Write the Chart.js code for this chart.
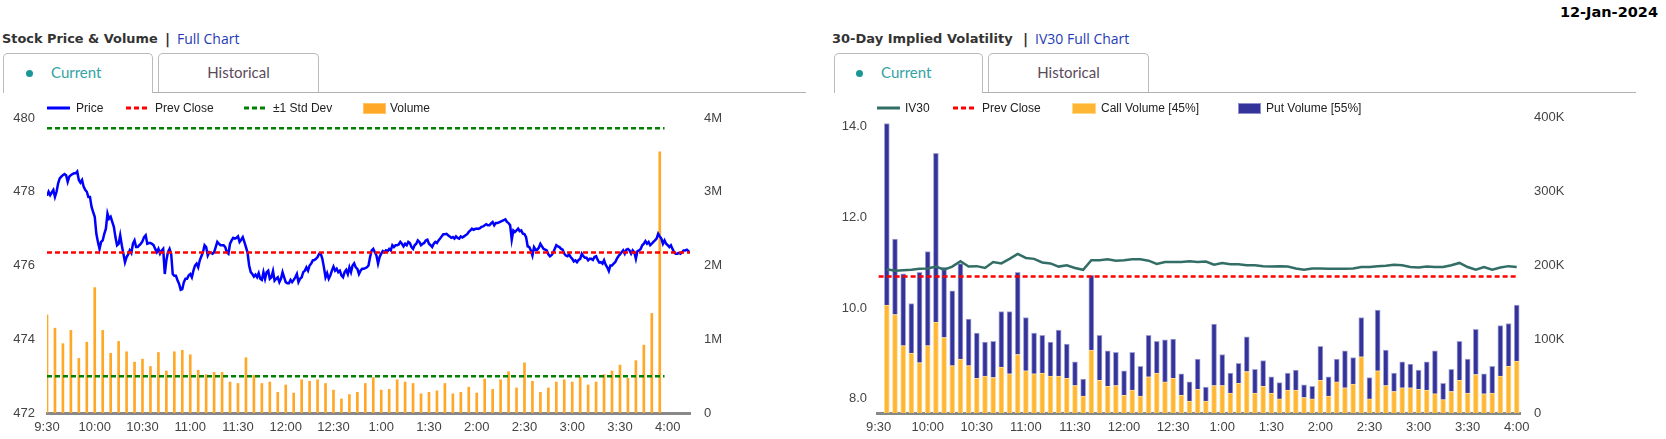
<!DOCTYPE html>
<html>
<head>
<meta charset="utf-8">
<title>Stock Price & Volume / IV30</title>
<script src="https://cdn.jsdelivr.net/npm/chart.js@4.4.0/dist/chart.umd.min.js"></script>
<style>
    html, body { margin: 0; padding: 0; background: #fff; }
    #page { position: relative; width: 1666px; height: 439px; overflow: hidden; font-family: 'Liberation Sans', Arial, sans-serif; }
    .abs { position: absolute; white-space: nowrap; }
    .date { right: 8px; top: 3px; font: bold 14.5px 'DejaVu Sans', sans-serif; line-height: 18px; color: #000; }
    .title { top: 29px; font: bold 13px 'DejaVu Sans', sans-serif; line-height: 20px; color: #333; }
    .sep { top: 29px; font: bold 14px 'DejaVu Sans', sans-serif; line-height: 20px; color: #333; }
    .link { top: 29px; font: 14px 'Open Sans', sans-serif; line-height: 20px; color: #1f3bb3; }
    .tab { top: 53px; height: 40px; box-sizing: border-box; border: 1px solid #bbb; border-bottom: none; border-radius: 5px 5px 0 0; background: #fff; font: 15px Lato, sans-serif; line-height: 37px; z-index: 2; }
    .tab.hist { color: #5a4a5a; text-align: center; height: 39px; }
    .tab.cur { color: #33a3a3; }
    .dot { position: absolute; width: 7px; height: 7px; border-radius: 50%; background: #1b9696; top: 16px; }
    .rule { top: 92px; height: 1px; background: #b0b0b0; }
    .leg { top: 101px; font: 12px 'Liberation Sans', Arial, sans-serif; line-height: 15px; color: #222; z-index: 3; }
    .icon { top: 102px; z-index: 3; }
    .box { top: 103px; height: 11px; box-sizing: border-box; z-index: 3; }
    canvas { position: absolute; top: 95px; }
</style>
</head>
<body>
<div id="page">
    <div class="abs date">12-Jan-2024</div>

    <!-- left panel header -->
    <div class="abs title" style="left:2px;font-size:12.9px">Stock Price &amp; Volume</div>
    <div class="abs sep" style="left:165px">|</div>
    <div class="abs link" style="left:177px">Full Chart</div>
    <div class="abs rule" style="left:152px;width:654px"></div>
    <div class="abs tab cur" style="left:3px;width:150px"><span class="dot" style="left:22px"></span><span style="position:absolute;left:47px">Current</span></div>
    <div class="abs tab hist" style="left:158px;width:161px">Historical</div>

    <!-- right panel header -->
    <div class="abs title" style="left:832px">30-Day Implied Volatility</div>
    <div class="abs sep" style="left:1023px">|</div>
    <div class="abs link" style="left:1035px">IV30 Full Chart</div>
    <div class="abs rule" style="left:982px;width:654px"></div>
    <div class="abs tab cur" style="left:834px;width:149px"><span class="dot" style="left:21px"></span><span style="position:absolute;left:46px">Current</span></div>
    <div class="abs tab hist" style="left:988px;width:161px">Historical</div>

    <canvas id="priceChart" width="760" height="344" style="left:0"></canvas>
    <canvas id="ivChart" width="846" height="344" style="left:820px"></canvas>

    <!-- legends -->
    <svg class="abs icon" style="left:47px" width="23" height="12"><line x1="0" y1="6" x2="23" y2="6" stroke="#0000ff" stroke-width="3"/></svg>
    <span class="abs leg" style="left:76px">Price</span>
    <svg class="abs icon" style="left:126px" width="23" height="12"><line x1="0" y1="6" x2="23" y2="6" stroke="#ff0000" stroke-width="3" stroke-dasharray="5,3"/></svg>
    <span class="abs leg" style="left:155px">Prev Close</span>
    <svg class="abs icon" style="left:244px" width="23" height="12"><line x1="0" y1="6" x2="23" y2="6" stroke="#008000" stroke-width="3" stroke-dasharray="5,3"/></svg>
    <span class="abs leg" style="left:273px">±1 Std Dev</span>
    <div class="abs box" style="left:363px;width:23px;background:#ffa726;border:1px solid #ffc466"></div>
    <span class="abs leg" style="left:390px">Volume</span>

    <svg class="abs icon" style="left:877px" width="23" height="12"><line x1="0" y1="6" x2="23" y2="6" stroke="#336e66" stroke-width="3"/></svg>
    <span class="abs leg" style="left:905px">IV30</span>
    <svg class="abs icon" style="left:953px" width="23" height="12"><line x1="0" y1="6" x2="23" y2="6" stroke="#ff0000" stroke-width="3" stroke-dasharray="5,3"/></svg>
    <span class="abs leg" style="left:982px">Prev Close</span>
    <div class="abs box" style="left:1072px;width:24px;background:#ffb733;border:1px solid #ffd88a"></div>
    <span class="abs leg" style="left:1101px">Call Volume [45%]</span>
    <div class="abs box" style="left:1238px;width:23px;background:#333399;border:1px solid #8f8fcc"></div>
    <span class="abs leg" style="left:1266px">Put Volume [55%]</span>
</div>

<script>
// x axis tick labels, every 30 minutes from the open
const timeLabels = ['9:30', '10:00', '10:30', '11:00', '11:30', '12:00', '12:30', '1:00', '1:30', '2:00', '2:30', '3:00', '3:30', '4:00'];
const volTickLabels = ['0', '1M', '2M', '3M', '4M'];
const optTickLabels = ['0', '100K', '200K', '300K', '400K'];
const ivTicks = [8, 10, 12, 14];

// stock price, one value per minute from 9:30
const price = [
    477.89, 478.00, 477.91, 477.98, 478.05, 477.86, 478.00, 478.23, 478.36, 478.41,
    478.45, 478.48, 478.45, 478.27, 478.41, 478.45, 478.48, 478.50, 478.50, 478.55,
    478.32, 478.25, 478.32, 478.14, 478.05, 478.00, 477.86, 477.86, 477.59, 477.45,
    477.32, 476.86, 476.64, 476.45, 476.64, 476.68, 476.86, 477.00, 477.41, 477.27,
    477.32, 477.18, 477.05, 476.77, 476.55, 476.59, 476.82, 476.55, 476.32, 476.09,
    476.23, 476.30, 476.41, 476.34, 476.59, 476.68, 476.50, 476.50, 476.55, 476.59,
    476.66, 476.77, 476.82, 476.59, 476.61, 476.61, 476.59, 476.55, 476.45, 476.36,
    476.45, 476.32, 476.40, 476.45, 475.77, 476.14, 476.36, 476.45, 476.32, 475.77,
    475.72, 475.72, 475.60, 475.50, 475.34, 475.36, 475.55, 475.64, 475.64, 475.73,
    475.77, 475.68, 475.86, 476.00, 476.05, 475.95, 476.14, 476.25, 476.36, 476.55,
    476.50, 476.27, 476.36, 476.34, 476.32, 476.36, 476.50, 476.64, 476.59, 476.55,
    476.55, 476.55, 476.50, 476.36, 476.32, 476.59, 476.68, 476.75, 476.73, 476.75,
    476.79, 476.64, 476.70, 476.77, 476.64, 476.50, 476.35, 476.00, 475.82, 475.77,
    475.70, 475.75, 475.68, 475.79, 475.64, 475.61, 475.82, 475.64, 475.82, 475.86,
    475.64, 475.68, 475.85, 475.59, 475.64, 475.68, 475.55, 475.64, 475.82, 475.68,
    475.55, 475.52, 475.52, 475.61, 475.55, 475.61, 475.68, 475.77, 475.55, 475.64,
    475.68, 475.82, 475.86, 475.95, 475.86, 476.00, 476.05, 476.14, 476.15, 476.18,
    476.23, 476.32, 476.32, 476.18, 475.95, 475.68, 475.79, 475.64, 475.73, 475.86,
    475.97, 475.86, 475.91, 475.82, 475.86, 475.73, 475.68, 475.82, 475.88, 475.77,
    475.95, 475.82, 476.00, 476.06, 475.95, 475.91, 475.77, 475.86, 475.91, 475.91,
    475.93, 475.95, 476.00, 476.23, 476.41, 476.45, 476.36, 476.27, 476.05, 476.23,
    476.32, 476.39, 476.36, 476.41, 476.39, 476.45, 476.41, 476.55, 476.50, 476.55,
    476.55, 476.57, 476.64, 476.59, 476.52, 476.59, 476.55, 476.64, 476.61, 476.50,
    476.45, 476.55, 476.59, 476.68, 476.64, 476.55, 476.59, 476.61, 476.68, 476.70,
    476.59, 476.55, 476.50, 476.59, 476.64, 476.61, 476.68, 476.73, 476.79, 476.85,
    476.85, 476.86, 476.82, 476.79, 476.75, 476.77, 476.73, 476.79, 476.75, 476.73,
    476.79, 476.76, 476.79, 476.82, 476.85, 476.91, 476.95, 477.00, 476.97, 476.99,
    477.00, 476.99, 477.01, 477.05, 477.06, 477.09, 477.12, 477.09, 477.09, 477.14,
    477.18, 477.09, 477.15, 477.15, 477.17, 477.19, 477.21, 477.23, 477.25, 477.18,
    477.15, 477.09, 476.70, 476.95, 476.91, 476.95, 477.00, 476.93, 476.95, 476.86,
    476.85, 476.77, 476.52, 476.50, 476.41, 476.27, 476.50, 476.43, 476.43, 476.48,
    476.59, 476.52, 476.45, 476.43, 476.41, 476.30, 476.25, 476.28, 476.34, 476.45,
    476.55, 476.52, 476.50, 476.45, 476.43, 476.32, 476.27, 476.25, 476.30, 476.23,
    476.18, 476.11, 476.14, 476.09, 476.15, 476.18, 476.32, 476.25, 476.21, 476.21,
    476.14, 476.18, 476.18, 476.15, 476.23, 476.25, 476.15, 476.08, 476.09, 476.05,
    476.14, 476.02, 475.95, 475.85, 476.00, 476.00, 476.05, 476.09, 476.18, 476.25,
    476.30, 476.36, 476.41, 476.32, 476.43, 476.45, 476.41, 476.32, 476.41, 476.36,
    476.18, 476.39, 476.41, 476.45, 476.55, 476.59, 476.66, 476.59, 476.64, 476.55,
    476.59, 476.64, 476.68, 476.73, 476.86, 476.79, 476.73, 476.59, 476.68, 476.59,
    476.55, 476.50, 476.55, 476.45, 476.36, 476.32, 476.32, 476.34, 476.32, 476.36,
    476.41, 476.41, 476.43, 476.39, 476.34
];
const prevClose = 476.35;
const stdUpper = 479.72;
const stdLower = 473.00;

// share volume, millions per 5 minute bucket starting 9:30
const volume = [
    1.33, 1.15, 0.94, 1.12, 0.74, 0.96, 1.70, 1.12, 0.81, 0.97,
    0.83, 0.69, 0.73, 0.63, 0.82, 0.57, 0.83, 0.85, 0.79, 0.58,
    0.52, 0.55, 0.55, 0.42, 0.40, 0.75, 0.51, 0.40, 0.42, 0.28,
    0.38, 0.27, 0.45, 0.43, 0.45, 0.40, 0.31, 0.19, 0.25, 0.28,
    0.40, 0.48, 0.31, 0.32, 0.45, 0.42, 0.40, 0.26, 0.28, 0.30,
    0.40, 0.26, 0.28, 0.35, 0.27, 0.46, 0.32, 0.45, 0.56, 0.34,
    0.68, 0.43, 0.28, 0.34, 0.42, 0.45, 0.42, 0.49, 0.38, 0.42,
    0.52, 0.57, 0.65, 0.47, 0.71, 0.92, 1.35, 3.54
];

// IV30 and option volume (thousands), 5 minute buckets ending 9:35 .. 4:00
const iv30 = [
    10.85, 10.82, 10.83, 10.84, 10.86, 10.87, 10.91, 10.84, 10.91, 11.03,
    10.91, 10.92, 10.88, 11.01, 10.98, 11.08, 11.19, 11.10, 11.08, 11.00,
    10.98, 10.91, 10.94, 10.88, 10.84, 11.05, 11.05, 11.07, 11.04, 11.05,
    11.07, 11.07, 11.04, 10.97, 11.01, 11.01, 11.01, 11.03, 11.01, 11.02,
    10.95, 10.99, 10.96, 10.96, 10.94, 10.94, 10.92, 10.91, 10.92, 10.91,
    10.87, 10.84, 10.87, 10.87, 10.86, 10.86, 10.86, 10.87, 10.90, 10.90,
    10.92, 10.93, 10.95, 10.94, 10.90, 10.89, 10.91, 10.90, 10.90, 10.94,
    10.99, 10.90, 10.84, 10.90, 10.84, 10.89, 10.92, 10.90
];
const ivPrevClose = 10.69;
const callVolume = [
    146, 133, 91, 81, 68, 91, 123, 102, 64, 73,
    64, 47, 50, 48, 62, 53, 79, 57, 53, 54,
    50, 50, 47, 37, 23, 85, 44, 36, 37, 24,
    31, 23, 49, 54, 42, 47, 24, 16, 32, 16,
    37, 37, 27, 40, 56, 27, 36, 27, 19, 31,
    31, 21, 19, 44, 23, 42, 34, 39, 76, 19,
    57, 37, 29, 34, 34, 32, 31, 26, 18, 29,
    44, 27, 52, 26, 27, 50, 63, 70
];
const putVolume = [
    245, 102, 97, 67, 122, 127, 228, 95, 101, 129,
    63, 61, 46, 49, 75, 84, 111, 72, 55, 51,
    46, 62, 46, 32, 23, 101, 61, 48, 45, 33,
    51, 40, 56, 43, 57, 53, 29, 26, 41, 19,
    83, 42, 27, 27, 47, 32, 35, 22, 22, 23,
    27, 17, 17, 46, 26, 31, 50, 36, 53, 29,
    82, 48, 25, 35, 32, 26, 38, 58, 22, 30,
    53, 46, 61, 27, 36, 68, 58, 76
];

document.addEventListener('DOMContentLoaded', () => {
    const axisFont = { family: "'Liberation Sans', Arial, sans-serif", size: 13 };
    const tickColor = '#444';

    // x axis in minutes after 9:30
    function timeAxis(min, max) {
        return {
            type: 'linear',
            min: min,
            max: max,
            offset: false,
            grid: { display: false, drawTicks: false },
            border: { display: true, color: '#888', width: 3 },
            afterBuildTicks: (scale) => {
                scale.ticks = timeLabels.map((_, i) => ({ value: i * 30 }));
            },
            ticks: {
                autoSkip: false,
                maxRotation: 0,
                padding: 7,
                color: tickColor,
                font: axisFont,
                callback: (value, index) => timeLabels[index]
            },
            afterFit: (scale) => { scale.height = 26; }
        };
    }

    function flatLine(label, value, from, to, color) {
        return {
            label: label,
            type: 'line',
            data: [{ x: from, y: value }, { x: to, y: value }],
            borderColor: color,
            borderWidth: 2.5,
            borderDash: [5, 3],
            pointRadius: 0,
            yAxisID: 'y',
            order: 0
        };
    }

    new Chart(document.getElementById('priceChart'), {
        type: 'line',
        data: {
            datasets: [
                flatLine('Prev Close', prevClose, 0, 404, '#ff0000'),
                flatLine('+1 Std Dev', stdUpper, 0, 388, '#008000'),
                flatLine('-1 Std Dev', stdLower, 0, 388, '#008000'),
                {
                    label: 'Price',
                    data: price.map((v, i) => ({ x: i, y: v })),
                    borderColor: '#0000ff',
                    borderWidth: 2.5,
                    pointRadius: 0,
                    tension: 0,
                    yAxisID: 'y',
                    order: 1
                },
                {
                    label: 'Volume',
                    type: 'bar',
                    data: volume.map((v, i) => ({ x: i * 5, y: v * 1e6 })),
                    backgroundColor: '#ffa726',
                    barThickness: 2,
                    yAxisID: 'y1',
                    order: 2
                }
            ]
        },
        options: {
            responsive: false,
            animation: false,
            layout: { padding: { top: 23, left: 0, right: 0, bottom: 0 } },
            plugins: { legend: { display: false }, tooltip: { enabled: false } },
            scales: {
                x: timeAxis(0, 404),
                y: {
                    position: 'left',
                    min: 472,
                    max: 480,
                    grid: { display: false, drawTicks: false },
                    border: { display: false },
                    ticks: { stepSize: 2, padding: 12, color: tickColor, font: axisFont },
                    afterFit: (scale) => { scale.width = 47; }
                },
                y1: {
                    position: 'right',
                    min: 0,
                    max: 4e6,
                    grid: { display: false, drawTicks: false },
                    border: { display: false },
                    ticks: {
                        stepSize: 1e6,
                        padding: 14,
                        color: tickColor,
                        font: axisFont,
                        callback: (value, index) => volTickLabels[index]
                    },
                    afterFit: (scale) => { scale.width = 70; }
                }
            }
        }
    });

    new Chart(document.getElementById('ivChart'), {
        type: 'line',
        data: {
            datasets: [
                {
                    label: 'IV30',
                    data: iv30.map((v, i) => ({ x: (i + 1) * 5, y: v })),
                    borderColor: '#336e66',
                    borderWidth: 2.5,
                    pointRadius: 0,
                    tension: 0,
                    yAxisID: 'y',
                    order: 0
                },
                flatLine('Prev Close', ivPrevClose, 0, 390, '#ff0000'),
                {
                    label: 'Call Volume [45%]',
                    type: 'bar',
                    data: callVolume.map((v, i) => ({ x: (i + 1) * 5, y: v * 1000 })),
                    backgroundColor: '#ffb733',
                    borderColor: '#ffdc94',
                    borderWidth: 1,
                    barThickness: 5,
                    stack: 'vol',
                    yAxisID: 'y1',
                    order: 1
                },
                {
                    label: 'Put Volume [55%]',
                    type: 'bar',
                    data: putVolume.map((v, i) => ({ x: (i + 1) * 5, y: v * 1000 })),
                    backgroundColor: '#333399',
                    borderColor: '#a3a3d6',
                    borderWidth: 1,
                    barThickness: 5,
                    stack: 'vol',
                    yAxisID: 'y1',
                    order: 1
                }
            ]
        },
        options: {
            responsive: false,
            animation: false,
            layout: { padding: { top: 22, left: 0, right: 0, bottom: 0 } },
            plugins: { legend: { display: false }, tooltip: { enabled: false } },
            scales: {
                x: timeAxis(-1, 392),
                y: {
                    position: 'left',
                    min: 7.69,
                    max: 14.2,
                    grid: { display: false, drawTicks: false },
                    border: { display: false },
                    afterBuildTicks: (scale) => {
                        scale.ticks = ivTicks.map((v) => ({ value: v }));
                    },
                    ticks: {
                        padding: 10,
                        color: tickColor,
                        font: axisFont,
                        callback: (value) => value.toFixed(1)
                    },
                    afterFit: (scale) => { scale.width = 57; }
                },
                y1: {
                    position: 'right',
                    min: 0,
                    max: 400000,
                    grid: { display: false, drawTicks: false },
                    border: { display: false },
                    ticks: {
                        stepSize: 100000,
                        padding: 14,
                        color: tickColor,
                        font: axisFont,
                        callback: (value, index) => optTickLabels[index]
                    },
                    afterFit: (scale) => { scale.width = 146; }
                }
            }
        }
    });
});
</script>
</body>
</html>
